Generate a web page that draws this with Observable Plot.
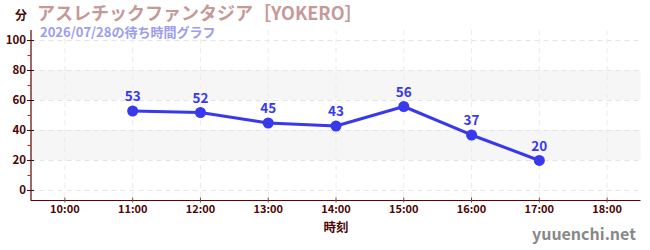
<!DOCTYPE html>
<html>
<head>
<meta charset="utf-8">
<script src="https://cdn.jsdelivr.net/npm/d3@7"></script>
<script src="https://cdn.jsdelivr.net/npm/@observablehq/plot@0.6"></script>
<style>
  html, body { margin: 0; padding: 0; background: #fff; }
  #wrap { position: relative; width: 650px; height: 250px; font-family: "Noto Sans CJK JP", "Noto Sans", sans-serif; }
  .ov { position: absolute; white-space: nowrap; font-weight: bold; line-height: 1; }
</style>
</head>
<body>
<div id="wrap">
  <div class="ov" style="left:15px; top:9px; font-size:12px; color:#4a0808;">分</div>
  <div class="ov" style="left:37px; top:3px; font-size:18px; color:#c69999;">アスレチックファンタジア［YOKERO］</div>
  <div class="ov" style="left:40px; top:25px; font-size:13px; color:#9c9cf0;">2026/07/28の待ち時間グラフ</div>
  <div class="ov" style="left:532px; top:225px; font-size:16px; color:#888888;">yuuenchi.net</div>
</div>
<script>
const hours = [11, 12, 13, 14, 15, 16, 17];
const waits = [53, 52, 45, 43, 56, 37, 20];
const xTicks = [10, 11, 12, 13, 14, 15, 16, 17, 18];
const xTickLabels = ["10:00", "11:00", "12:00", "13:00", "14:00", "15:00", "16:00", "17:00", "18:00"];
const yTicks = [0, 20, 40, 60, 80, 100];
const yMinorTicks = [10, 30, 50, 70, 90];
const bandLows = [20, 60];
const bandHighs = [40, 80];
const xDomain = [9.5, 18.5];
const yDomain = [-6.7, 106.7];
const xAxisTitle = "時刻";

const data = hours.map((h, i) => ({h, w: waits[i]}));
const bands = bandLows.map((lo, i) => ({lo, hi: bandHighs[i]}));
const tickColor = "#4d0505";
const lineColor = "#3838ec";

const chart = Plot.plot({
  width: 650,
  height: 250,
  marginLeft: 30.5,
  marginRight: 9.5,
  marginTop: 30,
  marginBottom: 50,
  style: {fontFamily: "'Noto Sans CJK JP', sans-serif", background: "transparent", overflow: "visible"},
  x: {domain: xDomain},
  y: {domain: yDomain},
  marks: [
    Plot.rect(bands, {y1: "lo", y2: "hi", fill: "#f6f6f6"}),
    Plot.ruleY(yTicks, {stroke: "#e4e4e4", strokeDasharray: "5,4"}),
    Plot.ruleX(xTicks, {stroke: "#ececec", strokeDasharray: "5,4"}),
    Plot.ruleX([xDomain[0]], {stroke: "#5a0505", strokeWidth: 1.2}),
    Plot.ruleY([yDomain[0]], {stroke: "#5a0505", strokeWidth: 1.2}),
    Plot.axisY({ticks: yTicks, tickSize: 7, dx: 3.5, stroke: tickColor, tickFormat: () => "", label: null}),
    Plot.axisY({ticks: yMinorTicks, tickSize: 3, stroke: "#d01010", tickFormat: () => "", label: null}),
    Plot.axisY({ticks: yTicks, tickSize: 0, tickPadding: 5, fill: tickColor, fontSize: 11.5, fontWeight: "bold", label: null}),
    Plot.axisX({ticks: xTicks, tickSize: 5, dy: -2.5, stroke: "#6a4a4a", tickFormat: () => "", label: null}),
    Plot.axisX({ticks: xTicks, tickSize: 0, tickPadding: 5, fill: tickColor, fontSize: 11, fontWeight: "bold", label: null,
      tickFormat: d => xTickLabels[xTicks.indexOf(d)]}),
    Plot.text([xAxisTitle], {frameAnchor: "bottom", dy: 31, fill: tickColor, fontSize: 12.5, fontWeight: "bold"}),
    Plot.line(data, {x: "h", y: "w", stroke: lineColor, strokeWidth: 3}),
    Plot.dot(data, {x: "h", y: "w", r: 5.5, fill: lineColor}),
    Plot.text(data, {x: "h", y: "w", text: "w", dy: -14, fill: lineColor, fontSize: 13.5, fontWeight: "bold"})
  ]
});
chart.style.position = "absolute";
chart.style.left = "0";
chart.style.top = "0";
document.getElementById("wrap").prepend(chart);
</script>
</body>
</html>
